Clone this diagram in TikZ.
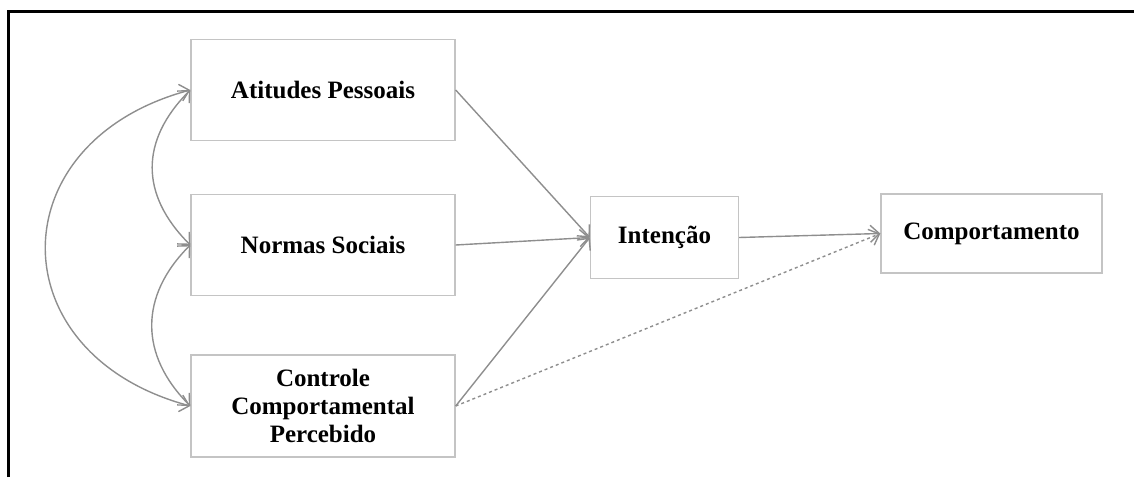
\documentclass[tikz,border=0pt]{standalone}
\usepackage{fontspec}
\setmainfont{Liberation Serif}
\usetikzlibrary{arrows.meta, positioning}

\definecolor{boxgray}{HTML}{C4C4C4}
\definecolor{linegray}{HTML}{8E8E8E}
\tikzset{
  box/.style={draw=boxgray, line width=1.4pt, fill=white, align=center,
    inner sep=0pt, font=\fontsize{25}{28}\selectfont\bfseries},
  conn/.style={linegray, line width=1.4pt},
}

\begin{document}
\begin{tikzpicture}[x=1pt, y=1pt, node distance=155pt, on grid,
    >={Straight Barb[length=9pt, width=17pt]}]
    \useasboundingbox (0,0) rectangle (1134,477);
    \draw[line width=2.6pt] (8.7,0) -- (8.7,465.7) -- (1134,465.7);

    \node[box, minimum width=264pt, minimum height=101pt] (att) at (323,387) {Atitudes Pessoais};
    \node[box, minimum width=264pt, minimum height=101pt, below=of att] (norm) {Normas Sociais};
    \node[box, minimum width=264pt, minimum height=102pt, below=161pt of norm] (ctrl) {Controle\\Comportamental\\Percebido};
    \node[box, minimum width=148pt, minimum height=82pt] (int) at (664.5,239.5) {Intenção};
    \node[box, minimum width=221pt, minimum height=79pt, right=327pt of int, yshift=4pt] (comp) {Comportamento};

    \path[conn, ->]
        (att.east) edge (int.west)
        (norm.east) edge (int.west)
        (ctrl.east) edge (int.west)
        (int.east) edge (comp.west)
        (ctrl.east) edge[dashed] (comp.west);

    \path[conn, <->]
        (att.west) edge[out=225, in=135, looseness=1.18] (norm.west)
        (norm.west) edge[out=225, in=135, looseness=1.15] (ctrl.west)
        (att.west) edge[out=195, in=165, looseness=1.62] (ctrl.west);
\end{tikzpicture}
\end{document}
